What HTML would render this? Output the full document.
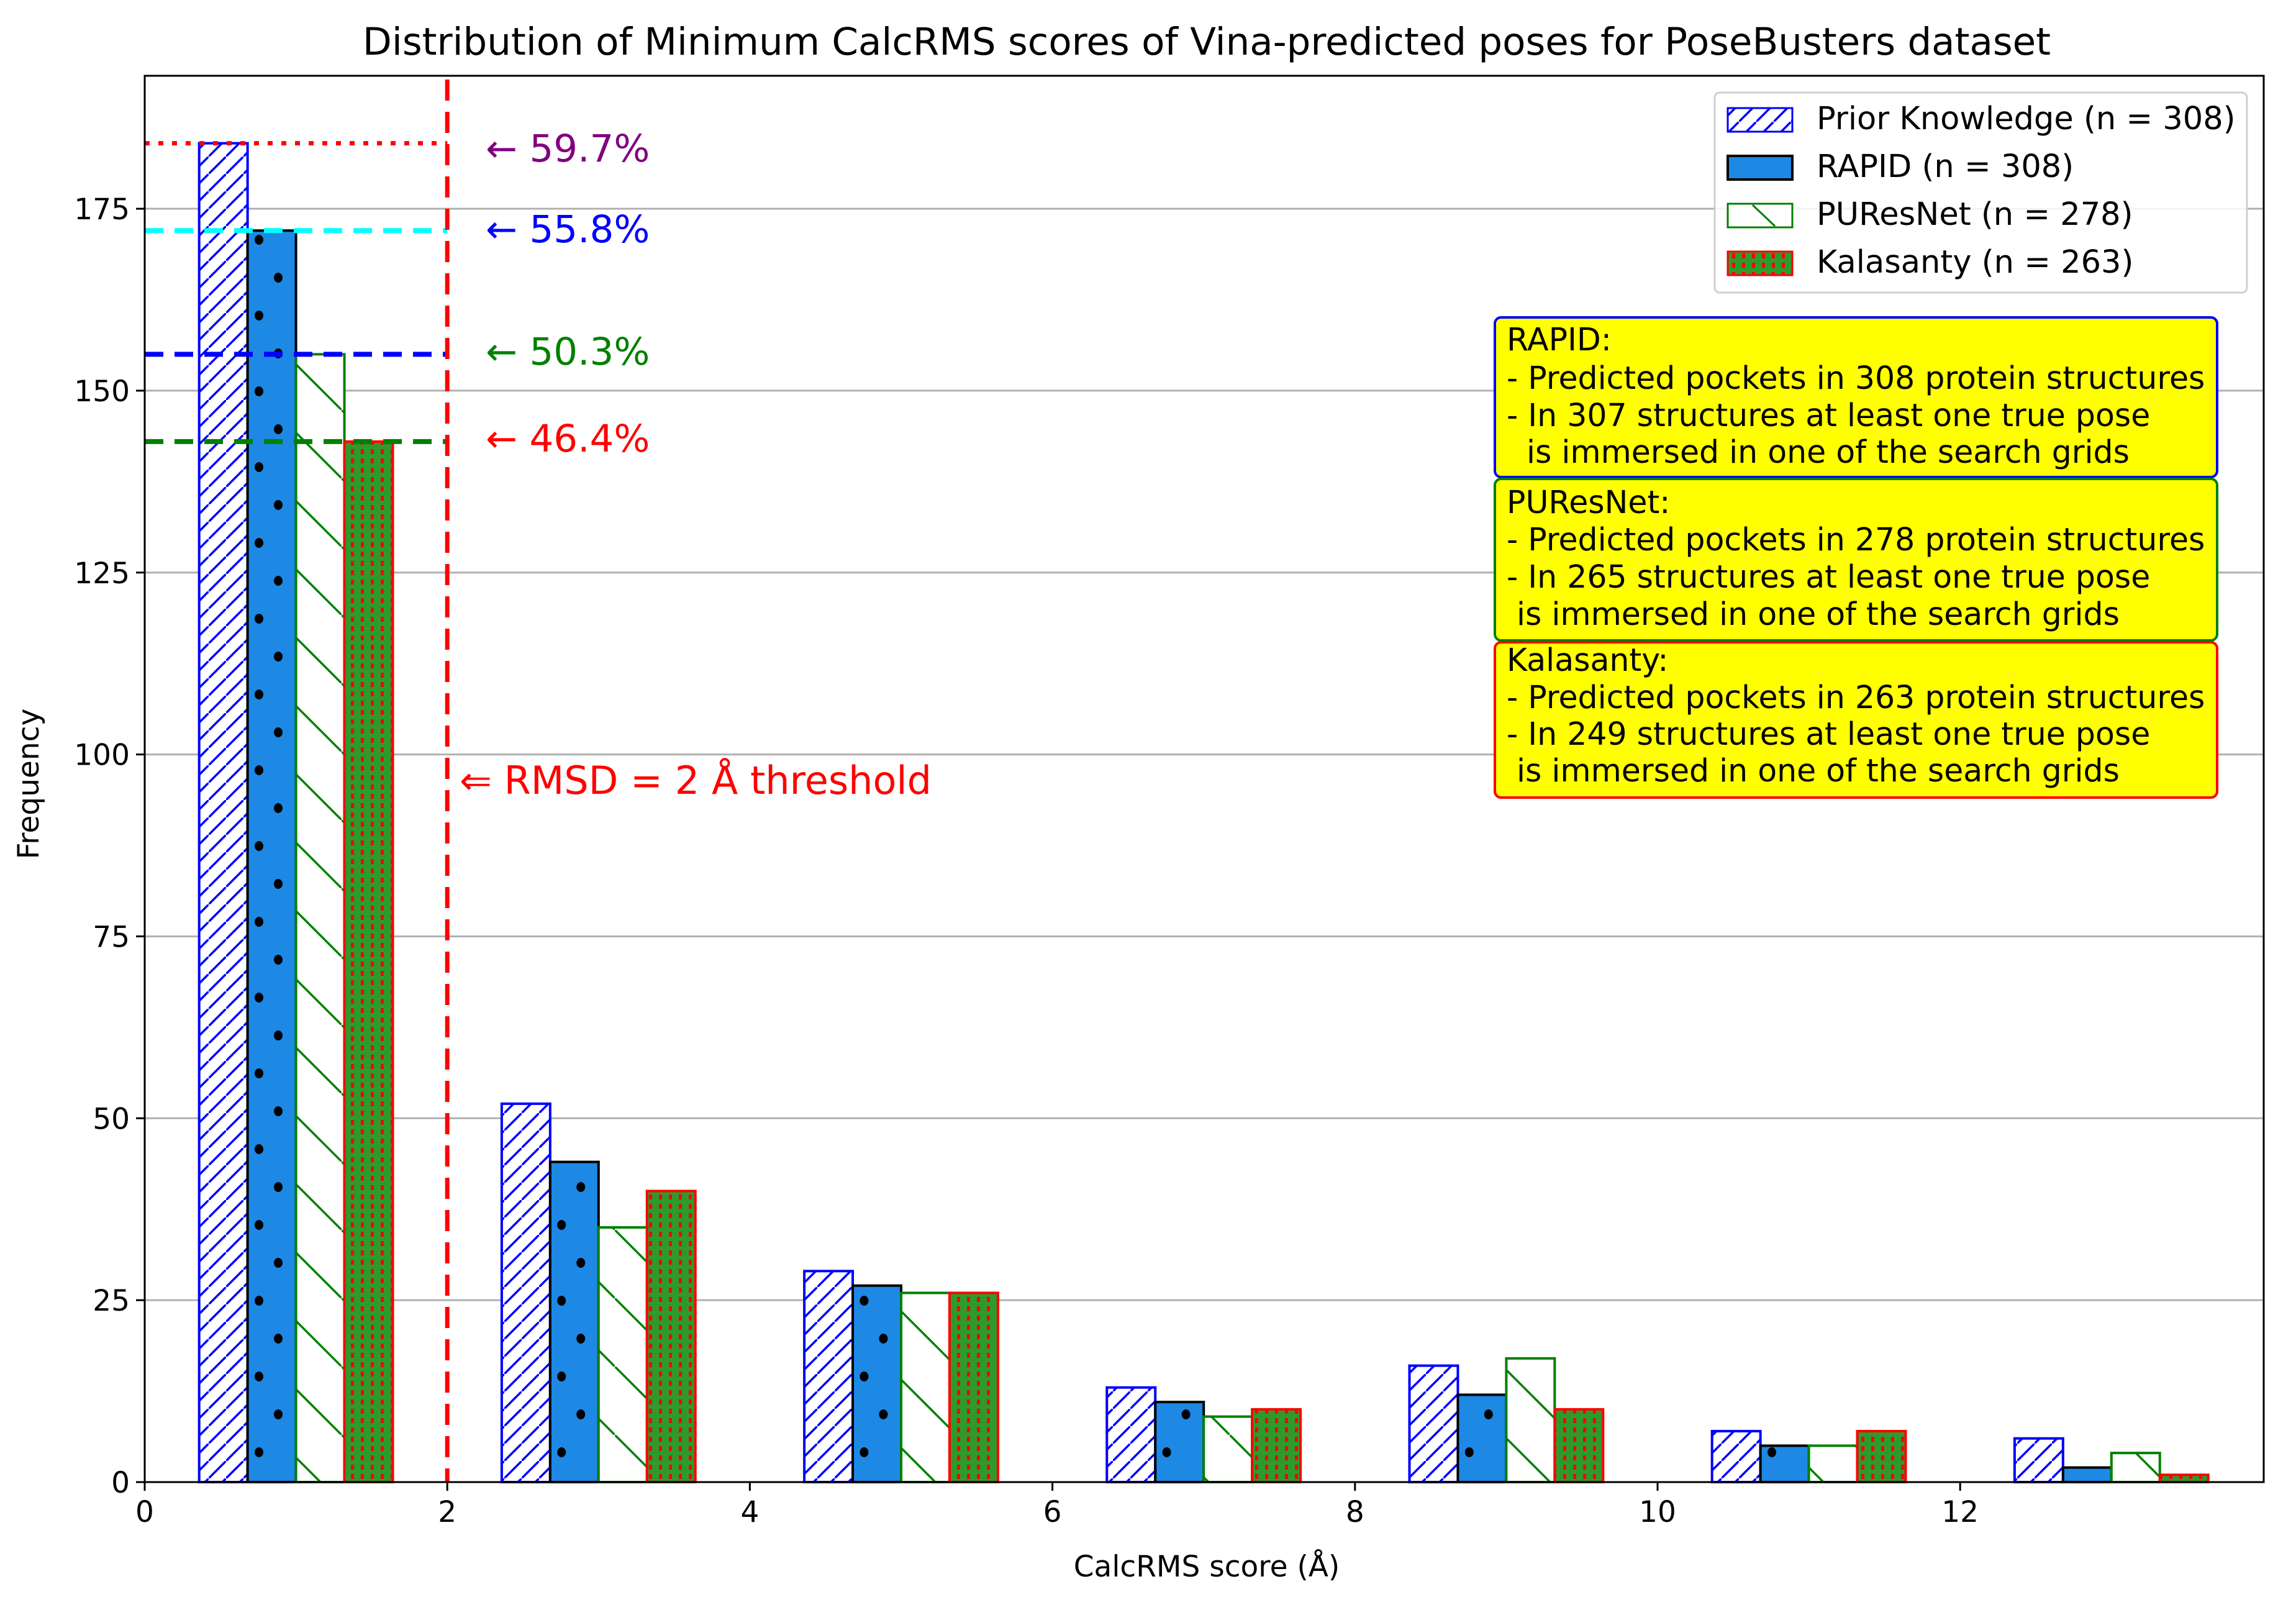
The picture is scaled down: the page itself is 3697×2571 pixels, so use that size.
<!DOCTYPE html>
<html><head><meta charset="utf-8"><style>
html,body{margin:0;padding:0;background:#fff;}
svg{display:block;font-family:"DejaVu Sans","Liberation Sans",sans-serif;}
</style></head><body>
<svg id="chart" xmlns="http://www.w3.org/2000/svg" width="3697" height="2571" viewBox="0 0 3697 2571">
<defs>
<pattern id="pk" patternUnits="userSpaceOnUse" width="28" height="28">
<rect width="28" height="28" fill="#fff"/><line x1="-3" y1="31" x2="31" y2="-3" stroke="#0000ff" stroke-width="3.5"/>
</pattern>
<pattern id="rp" patternUnits="userSpaceOnUse" x="233" y="0" width="487.2" height="122">
<rect width="487.2" height="122" fill="#1e88e5"/><ellipse cx="184" cy="20" rx="7" ry="8" fill="#000"/><ellipse cx="215" cy="81" rx="7" ry="8" fill="#000"/>
</pattern>
<pattern id="pu" patternUnits="userSpaceOnUse" width="110" height="110">
<rect width="110" height="110" fill="#fff"/><line x1="-3" y1="-3" x2="113" y2="113" stroke="#008000" stroke-width="3.5"/>
</pattern>
<pattern id="ka" patternUnits="userSpaceOnUse" width="16" height="15">
<rect width="16" height="15" fill="#2e9a2e"/><rect x="5" y="3" width="5" height="8" fill="#ff0000"/>
</pattern>
</defs>
<text x="1943" y="88" font-size="61" text-anchor="middle" fill="#000">Distribution of Minimum CalcRMS scores of Vina-predicted poses for PoseBusters dataset</text>
<g id="grid"></g>
<g id="bars"></g>
<g id="refs"></g>
<rect x="233" y="122" width="3412" height="2264" fill="none" stroke="#000" stroke-width="3"/>
<g id="axes"></g>
<text transform="translate(62,1262) rotate(-90)" font-size="47" text-anchor="middle">Frequency</text>
<text x="1943" y="2538" font-size="47" text-anchor="middle">CalcRMS score (Å)</text>
<text x="740" y="1278" font-size="62" fill="#ff0000">⇐ RMSD = 2 Å threshold</text>
<text x="782" y="260" font-size="61" fill="#800080">← 59.7%</text>
<text x="782" y="390" font-size="61" fill="#0000ff">← 55.8%</text>
<text x="782" y="587" font-size="61" fill="#008000">← 50.3%</text>
<text x="782" y="727" font-size="61" fill="#ff0000">← 46.4%</text>
<g>
<rect x="2761" y="149" width="857" height="322" rx="8" fill="#fff" fill-opacity="0.85" stroke="#d0d0d0" stroke-width="3"/>
<rect x="2782" y="174" width="104" height="38" fill="url(#pk)" stroke="#0000ff" stroke-width="3"/>
<text x="2925" y="208" font-size="51">Prior Knowledge (n = 308)</text>
<rect x="2782" y="251" width="104" height="38" fill="#1e88e5" stroke="#000" stroke-width="4"/>
<text x="2925" y="285" font-size="51">RAPID (n = 308)</text>
<rect x="2782" y="328" width="104" height="38" fill="#fff" stroke="#008000" stroke-width="3"/>
<line x1="2822" y1="330" x2="2858" y2="364" stroke="#008000" stroke-width="3"/>
<text x="2925" y="362" font-size="51">PUResNet (n = 278)</text>
<rect x="2782" y="405" width="104" height="38" fill="url(#ka)" stroke="#ff0000" stroke-width="3"/>
<text x="2925" y="439" font-size="51">Kalasanty (n = 263)</text>
</g>
<g font-size="50.5">
<rect x="2407" y="511" width="1163" height="257" rx="10" fill="#ffff00" stroke="#0000ff" stroke-width="4"/>
<text x="2426" y="564">RAPID:</text>
<text x="2426" y="626">- Predicted pockets in 308 protein structures</text>
<text x="2426" y="686">- In 307 structures at least one true pose</text>
<text x="2458" y="745">is immersed in one of the search grids</text>
</g>
<g font-size="50.5">
<rect x="2407" y="771" width="1163" height="260" rx="10" fill="#ffff00" stroke="#008000" stroke-width="4"/>
<text x="2426" y="826">PUResNet:</text>
<text x="2426" y="886">- Predicted pockets in 278 protein structures</text>
<text x="2426" y="946">- In 265 structures at least one true pose</text>
<text x="2442" y="1006">is immersed in one of the search grids</text>
</g>
<g font-size="50.5">
<rect x="2407" y="1034" width="1163" height="250" rx="10" fill="#ffff00" stroke="#ff0000" stroke-width="4"/>
<text x="2426" y="1080">Kalasanty:</text>
<text x="2426" y="1140">- Predicted pockets in 263 protein structures</text>
<text x="2426" y="1199">- In 249 structures at least one true pose</text>
<text x="2442" y="1258">is immersed in one of the search grids</text>
</g>
</svg>
<script>
const binStarts = [0, 2, 4, 6, 8, 10, 12];
const priorKnowledge = [184, 52, 29, 13, 16, 7, 6];
const rapid = [172, 44, 27, 11, 12, 5, 2];
const puresnet = [155, 35, 26, 9, 17, 5, 4];
const kalasanty = [143, 40, 26, 10, 10, 7, 1];
const yTicks = [0, 25, 50, 75, 100, 125, 150, 175];
const xTicks = [0, 2, 4, 6, 8, 10, 12];
const refLevels = [184, 172, 155, 143];
const threshold = 2;

const NS = 'http://www.w3.org/2000/svg';
const X0 = 233, XU = 243.6, Y0 = 2386, YU = 11.714;
function sx(v){ return X0 + v * XU; }
function sy(v){ return Y0 - v * YU; }
function mk(tag, attrs, parent){ const e = document.createElementNS(NS, tag); for (const k in attrs) e.setAttribute(k, attrs[k]); parent.appendChild(e); return e; }

const grid = document.getElementById('grid');
yTicks.forEach(t => {
  if (t === 0) return;
  const l = mk('line', {x1: X0, x2: 3645, y1: sy(t), y2: sy(t), stroke: '#b0b0b0', 'stroke-width': 3}, grid);
  
  
});

const series = [
  {vals: priorKnowledge, fill: 'url(#pk)', stroke: '#0000ff', name: 'prior-knowledge'},
  {vals: rapid, fill: 'url(#rp)', stroke: '#000000', name: 'rapid'},
  {vals: puresnet, fill: 'url(#pu)', stroke: '#008000', name: 'puresnet'},
  {vals: kalasanty, fill: 'url(#ka)', stroke: '#ff0000', name: 'kalasanty'}
];
const bars = document.getElementById('bars');
const bw = 0.32;
series.forEach((s, si) => {
  s.vals.forEach((v, i) => {
    const left = binStarts[i] + 0.36 + si * bw;
    const r = mk('rect', {x: sx(left), y: sy(v), width: bw * XU, height: sy(0) - sy(v), fill: s.fill, stroke: s.stroke, 'stroke-width': 4}, bars);
    
    
  });
});

const refs = document.getElementById('refs');
const refStyles = [
  {c: '#ff0000', d: '8 14', w: 7},
  {c: '#00ffff', d: '30 18', w: 8},
  {c: '#0000ff', d: '30 18', w: 8},
  {c: '#008000', d: '30 18', w: 8}
];
refLevels.forEach((v, i) => {
  const l = mk('line', {x1: X0, x2: sx(threshold), y1: sy(v), y2: sy(v), stroke: refStyles[i].c, 'stroke-dasharray': refStyles[i].d, 'stroke-width': refStyles[i].w}, refs);
  
  
});
const th = mk('line', {x1: sx(threshold), x2: sx(threshold), y1: 128, y2: Y0, stroke: '#ff0000', 'stroke-dasharray': '34 18', 'stroke-width': 7}, refs);



const axes = document.getElementById('axes');
yTicks.forEach(t => {
  const l = mk('line', {x1: X0 - 14, x2: X0, y1: sy(t), y2: sy(t), stroke: '#000', 'stroke-width': 3}, axes);
  
  
  const tx = mk('text', {x: X0 - 24, y: sy(t) + 17, 'font-size': 47, 'text-anchor': 'end'}, axes);
  tx.textContent = t;
  
  
});
xTicks.forEach(t => {
  const l = mk('line', {x1: sx(t), x2: sx(t), y1: Y0, y2: Y0 + 14, stroke: '#000', 'stroke-width': 3}, axes);
  
  
  const tx = mk('text', {x: sx(t), y: Y0 + 64, 'font-size': 47, 'text-anchor': 'middle'}, axes);
  tx.textContent = t;
  
  
});
</script>
</body></html>
